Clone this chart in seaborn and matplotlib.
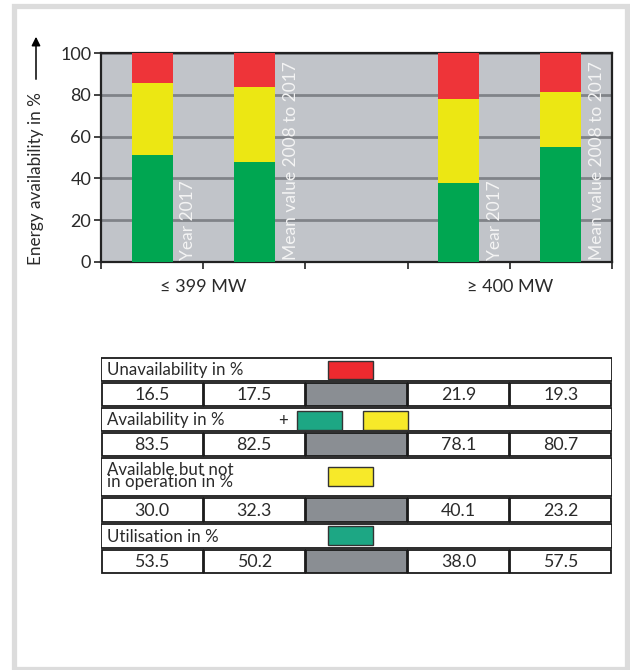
import numpy as np
import pandas as pd
import seaborn as sns
import matplotlib
matplotlib.use("Agg")
import matplotlib.pyplot as plt
from matplotlib.patches import Rectangle

# ---------------- data ----------------
groups = ["≤ 399 MW", "≥ 400 MW"]
group_pos = [1, 4]
bar_labels = ["Year 2017", "Mean value 2008 to 2017", "Year 2017", "Mean value 2008 to 2017"]
bar_pos = [0.5, 1.5, 3.5, 4.5]
utilisation_bar = [51.0, 48.0, 38.0, 54.8]
not_in_operation_bar = [34.8, 35.9, 40.1, 26.7]
unavailability_bar = [14.2, 16.1, 21.9, 18.5]
y_ticks = [0, 20, 40, 60, 80, 100]

row_titles = ["Unavailability in %", "Availability in %",
              "Available but not\nin operation in %", "Utilisation in %"]
tab_unavailability = ["16.5", "17.5", "21.9", "19.3"]
tab_availability = ["83.5", "82.5", "78.1", "80.7"]
tab_not_in_operation = ["30.0", "32.3", "40.1", "23.2"]
tab_utilisation = ["53.5", "50.2", "38.0", "57.5"]

# ---------------- style ----------------
RED = "#ee3439"
YELLOW = "#ece713"
GREEN = "#00a651"
T_RED = "#ee2a2f"
T_YELLOW = "#f7e929"
T_TEAL = "#1da784"
BG = "#c1c4c9"
GRID = "#808388"
CELL_GRAY = "#8a8e93"
TXT = "#2a2a2a"

sns.set_style("white")
plt.rcParams["font.family"] = ["Lato", "DejaVu Sans"]

W, H = 630, 670
fig = plt.figure(figsize=(6.3, 6.7), dpi=100)

# outer light frame
fig.add_artist(Rectangle((13.5 / W, 1 - 669 / H), (626.5 - 13.5) / W, (669 - 5.5) / H,
                         transform=fig.transFigure, fill=False,
                         edgecolor="#dcdcdc", linewidth=3.8))

# ---------------- chart ----------------
ax = fig.add_axes([101 / W, 1 - 262 / H, 511 / W, 209 / H])
ax.set_facecolor(BG)

df = pd.DataFrame({
    "pos": bar_pos,
    "green": utilisation_bar,
    "yellow": np.array(utilisation_bar) + np.array(not_in_operation_bar),
    "red": np.array(utilisation_bar) + np.array(not_in_operation_bar) + np.array(unavailability_bar),
})
for col, c in [("red", RED), ("yellow", YELLOW), ("green", GREEN)]:
    sns.barplot(data=df, x="pos", y=col, native_scale=True, width=0.4,
                color=c, saturation=1, linewidth=0, edgecolor="none",
                errorbar=None, ax=ax, zorder=3)

ax.set_xlim(0, 5)
ax.set_ylim(0, 100)
ax.set_xticks([0, 1, 2, 3, 4, 5])
ax.set_xticklabels([])
ax.set_yticks(y_ticks)
ax.set_yticklabels([str(v) for v in y_ticks], fontsize=13, color=TXT)
ax.tick_params(axis="both", direction="out", length=5, width=1.2, color="#222222", left=True, bottom=True)
ax.tick_params(axis="y", pad=2)
ax.yaxis.grid(True, color=GRID, linewidth=2)
ax.set_axisbelow(True)
ax.set_xlabel("")
ax.set_ylabel("")
for s in ax.spines.values():
    s.set_visible(True)
    s.set_color("#222222")
    s.set_linewidth(1.6)

for p, lab in zip(bar_pos, bar_labels):
    ax.text(p + 0.355, 0.8, lab, rotation=90, ha="center", va="bottom",
            color="#f4f4f4", fontsize=12.5, zorder=4)

for gp, g in zip(group_pos, groups):
    ax.text(gp, -12, g, ha="center", va="center", fontsize=13, color=TXT, clip_on=False)

fig.text(36 / W, 1 - 179 / H, "Energy availability in %", rotation=90,
         ha="center", va="center", fontsize=12.3, color=TXT)
fig.add_artist(matplotlib.patches.FancyArrowPatch(
    (36 / W, 1 - 82 / H), (36 / W, 1 - 34 / H), transform=fig.transFigure,
    arrowstyle="-|>", mutation_scale=13, color="black", linewidth=1.1))

# ---------------- table ----------------
tax = fig.add_axes([101 / W, 1 - 575 / H, 511 / W, 218 / H])
tax.set_xlim(0, 5)
tax.set_ylim(218, 0)
tax.axis("off")

rows = [(0, 25), (25, 50), (50, 75), (75, 100), (100, 140), (140, 166), (166, 192), (192, 217)]
values = [tab_unavailability, tab_availability, tab_not_in_operation, tab_utilisation]
ins = 0.006
for i in range(4):
    h0, h1 = rows[2 * i]
    tax.add_patch(Rectangle((0, h0 + 0.6), 5, h1 - h0 - 1.2, facecolor="white",
                            edgecolor="#1a1a1a", linewidth=1.3))
    yoff = -1.0 if i == 2 else 0.5
    tax.text(0.06, (h0 + h1) / 2 + yoff, row_titles[i], ha="left", va="center",
             fontsize=12.2, color=TXT, linespacing=0.75)
    v0, v1 = rows[2 * i + 1]
    cols = [0, 1, 3, 4]
    tax.add_patch(Rectangle((2 + ins, v0 + 0.6), 1 - 2 * ins, v1 - v0 - 1.2, facecolor=CELL_GRAY,
                            edgecolor="#1a1a1a", linewidth=1.3))
    for c, val in zip(cols, values[i]):
        tax.add_patch(Rectangle((c + ins, v0 + 0.6), 1 - 2 * ins, v1 - v0 - 1.2, facecolor="white",
                                edgecolor="#1a1a1a", linewidth=1.3))
        tax.text(c + 0.5, (v0 + v1) / 2 + 0.8, val, ha="center", va="center",
                 fontsize=12.8, color=TXT)

def swatch(x0, x1, y0, y1, col):
    tax.add_patch(Rectangle((x0, y0), x1 - x0, y1 - y0, facecolor=col,
                            edgecolor="#333333", linewidth=1.0))

swatch(2.22, 2.66, 4, 22, T_RED)
swatch(1.92, 2.36, 54, 73, T_TEAL)
swatch(2.56, 3.00, 54, 73, T_YELLOW)
tax.text(1.78, 63.5, "+", ha="center", va="center", fontsize=12, color=TXT)
swatch(2.22, 2.66, 110, 129, T_YELLOW)
swatch(2.22, 2.66, 169, 188, T_TEAL)

fig.savefig("out.png", dpi=100)
